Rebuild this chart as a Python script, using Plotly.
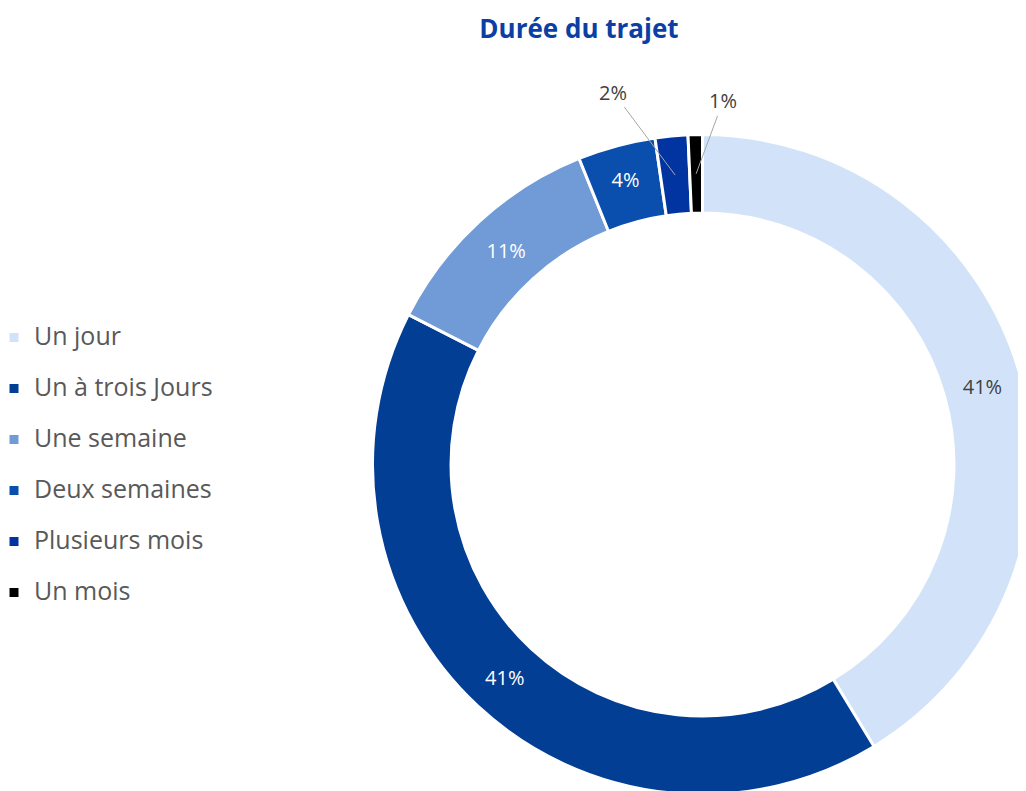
import math
import plotly.graph_objects as go

# ---- data ----
categories = ["Un jour", "Un à trois Jours", "Une semaine", "Deux semaines", "Plusieurs mois", "Un mois"]
values = [41.3, 41.2, 11.4, 3.8, 1.6, 0.7]
title_text = "Durée du trajet"

# ---- styles ----
colors = ["#D2E3F9", "#023E94", "#709BD6", "#0A4FAE", "#0234A1", "#000000"]
inside_text_colors = ["#404040", "#FFFFFF", "#FFFFFF", "#FFFFFF", "#FFFFFF", "#FFFFFF"]
outside_label = [False, False, False, False, True, True]
outside_offsets = {4: (-62, -83), 5: (27, -73)}  # label offset (px) from slice mid-point

W, H = 1026, 791
PAGE_OFF = 8                       # page body margin
CX, CY, R = 702.5 - PAGE_OFF, 464.5 - PAGE_OFF, 330   # pie centre / radius in figure px
HOLE = 0.762
FONT = "Open Sans"

dom_x = [(CX - R) / W, min(1.0, (CX + R) / W)]
dom_y = [max(0.0, (H - (CY + R)) / H), (H - (CY - R)) / H]

total = sum(values)
texttemplates = ["" if o else "%{percent:.0%}" for o in outside_label]
legend_labels = [f"<span style='font-size:25px'>{c}</span><br> " for c in categories]

fig = go.Figure(
    go.Pie(
        labels=legend_labels,
        values=values,
        sort=False,
        direction="clockwise",
        rotation=0,
        hole=HOLE,
        domain=dict(x=dom_x, y=dom_y),
        marker=dict(colors=colors, line=dict(color="#FFFFFF", width=3)),
        texttemplate=texttemplates,
        textposition="inside",
        insidetextorientation="horizontal",
        insidetextfont=dict(family=FONT, size=20, color=inside_text_colors),
        hoverinfo="label+percent",
    )
)

# outside labels with leader lines, anchored at the slice mid-points
annotations = []
cum = 0.0
rm = R * (1 + HOLE) / 2
for i, v in enumerate(values):
    start = cum
    cum += v
    if not outside_label[i]:
        continue
    mid = (start + v / 2) / total
    a = mid * 2 * math.pi
    tx = CX + rm * math.sin(a)
    ty = CY - rm * math.cos(a)
    ax, ay = outside_offsets[i]
    annotations.append(dict(
        x=tx / W, y=1 - ty / H, xref="paper", yref="paper",
        text=f"{round(v / total * 100)}%",
        showarrow=True, arrowhead=0, arrowwidth=1, arrowcolor="#A6A6A6",
        ax=ax, ay=ay, standoff=0,
        font=dict(family=FONT, size=20, color="#404040"),
    ))

fig.update_layout(
    width=W, height=H,
    margin=dict(l=0, r=0, t=0, b=0, autoexpand=False),
    paper_bgcolor="#FFFFFF",
    plot_bgcolor="#FFFFFF",
    title=dict(
        text=f"<b>{title_text}</b>",
        x=(579 - PAGE_OFF) / W, xanchor="center", xref="paper",
        y=1 - (29 - PAGE_OFF) / H, yanchor="middle", yref="paper",
        font=dict(family=FONT, size=26, color="#0B3FA5"),
    ),
    legend=dict(
        x=-14 / W, xanchor="left",
        y=1 - 311 / H, yanchor="top",
        valign="top",
        font=dict(family=FONT, size=24 / 1.3, color="#595959"),
        bgcolor="rgba(0,0,0,0)",
        traceorder="normal",
    ),
    annotations=annotations,
    showlegend=True,
)

fig.write_html("out.html")
